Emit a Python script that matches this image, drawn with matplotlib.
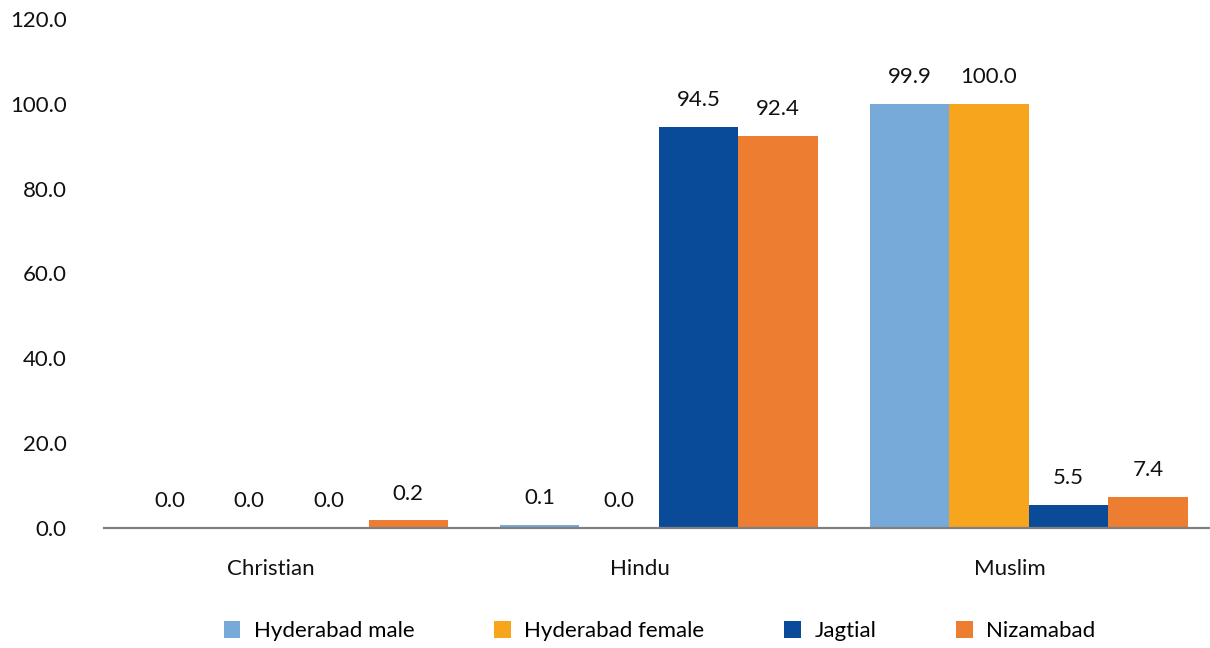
import numpy as np
import matplotlib
matplotlib.use("Agg")
import matplotlib.pyplot as plt

plt.rcParams['font.family'] = ['Lato', 'DejaVu Sans']

categories = ["Christian", "Hindu", "Muslim"]
series = ["Hyderabad male", "Hyderabad female", "Jagtial", "Nizamabad"]
# bar heights as drawn in the picture
hyd_male = [0.0, 0.8, 99.9]
hyd_female = [0.0, 0.0, 100.0]
jagtial = [0.0, 94.5, 5.5]
nizamabad = [1.8, 92.4, 7.4]
# data labels as printed on the chart
lbl_hyd_male = ["0.0", "0.1", "99.9"]
lbl_hyd_female = ["0.0", "0.0", "100.0"]
lbl_jagtial = ["0.0", "94.5", "5.5"]
lbl_nizamabad = ["0.2", "92.4", "7.4"]
y_ticks = [0, 20, 40, 60, 80, 100, 120]

colors = ["#77A9D9", "#F8A51E", "#0A4B99", "#ED7D31"]
valores = [hyd_male, hyd_female, jagtial, nizamabad]
etiquetas = [lbl_hyd_male, lbl_hyd_female, lbl_jagtial, lbl_nizamabad]

fig = plt.figure(figsize=(12.1, 6.48), dpi=100)
ax = fig.add_axes([0.086, 0.185, 0.914, 0.786])

x = np.arange(len(categories))
w = 0.215
for i, (vals, labs) in enumerate(zip(valores, etiquetas)):
    pos = x + (i - 1.5) * w
    bars = ax.bar(pos, vals, width=w, color=colors[i], label=series[i])
    for b, t in zip(bars, labs):
        ax.annotate(t, (b.get_x() + b.get_width() / 2, b.get_height()),
                    xytext=(0, 12), textcoords="offset points",
                    ha="center", va="bottom", fontsize=16, color="#111111")

ax.set_xlim(-0.5, 2.49)
ax.set_ylim(0, 120)
ax.set_yticks(y_ticks)
ax.set_yticklabels([f"{v:.1f}" for v in y_ticks])
# category names sit a little left of the bar groups in the original
ax.set_xticks(x - 0.05)
ax.set_xticklabels(categories)
ax.tick_params(axis="both", length=0, labelsize=16, colors="#111111")
ax.tick_params(axis="y", pad=27)
ax.tick_params(axis="x", pad=22)
for s in ["top", "right", "left"]:
    ax.spines[s].set_visible(False)
ax.spines["bottom"].set_color("#808080")
ax.spines["bottom"].set_linewidth(1.6)

fig.legend(loc="center", bbox_to_anchor=(0.545, 0.026), ncol=4, frameon=False,
           fontsize=16, handlelength=0.75, handleheight=0.75, handletextpad=0.6,
           columnspacing=3.6)

plt.savefig("out.png", dpi=100)
plt.close()
